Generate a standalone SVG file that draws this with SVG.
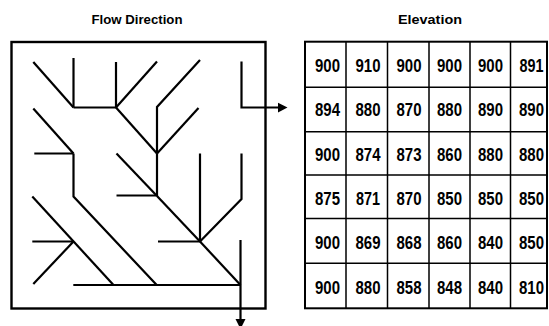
<svg xmlns="http://www.w3.org/2000/svg" width="549" height="326" viewBox="0 0 549 326">
<style>
.title{font-family:"Liberation Sans",Arial,sans-serif;font-weight:bold;font-size:13px;fill:#000;text-anchor:middle}
.num{font-family:"Liberation Sans",Arial,sans-serif;font-weight:bold;font-size:18px;fill:#000;text-anchor:middle}
.flow{fill:none;stroke:#000;stroke-width:2.2}
.frame{fill:#fff;stroke:#000;stroke-width:2.4}
.grid{fill:none;stroke:#000;stroke-width:1.5}
</style>
<rect width="549" height="326" fill="#fff"/>
<g id="flow-direction">
<text class="title" x="137" y="24" textLength="91" lengthAdjust="spacingAndGlyphs">Flow Direction</text>
<rect class="frame" x="11.5" y="42" width="254" height="266.5"/>
</g>
<g id="connectors">
<path class="flow" d="M33.3,62 L73.5,107.5"/>
<path class="flow" d="M73.5,58 V107.5"/>
<path class="flow" d="M73.5,107.5 H116"/>
<path class="flow" d="M116,62 V107.5"/>
<path class="flow" d="M157,61.5 L116,107.5"/>
<path class="flow" d="M116,107.5 L157,153.5"/>
<path class="flow" d="M200,60 L157,107 V153.5"/>
<path class="flow" d="M198.5,108 L157,153.5"/>
<path class="flow" d="M157,153.5 V196"/>
<path class="flow" d="M241.5,61.5 V107.5 H279"/>
<polygon points="278,102.7 287.5,107.5 278,112.5" fill="#000"/>
<path class="flow" d="M33.3,108.5 L73.5,153.5"/>
<path class="flow" d="M34.3,153.5 H73.5"/>
<path class="flow" d="M73.5,153.5 V196.5 L156.7,285"/>
<path class="flow" d="M116.5,153.5 L157,196"/>
<path class="flow" d="M116.5,195.5 H157"/>
<path class="flow" d="M157,196 L200,241.5"/>
<path class="flow" d="M200,153.5 V241.5"/>
<path class="flow" d="M241.5,153.5 V199 L200,241.5"/>
<path class="flow" d="M158,241.5 H200"/>
<path class="flow" d="M200,241.5 L240.5,285"/>
<path class="flow" d="M240.5,240 V320"/>
<polygon points="235.5,319 245.5,319 240.5,329" fill="#000"/>
<path class="flow" d="M73.3,285 H240.5"/>
<path class="flow" d="M32.3,196.5 L113.5,285"/>
<path class="flow" d="M32.3,241.5 H73.5"/>
<path class="flow" d="M33.3,284 L73.5,241.5"/>
</g>
<g id="elevation">
<text class="title" x="430" y="24" textLength="64" lengthAdjust="spacingAndGlyphs">Elevation</text>
<rect x="305" y="41.7" width="242" height="266.6" fill="#fff" stroke="#000" stroke-width="2"/>
<path class="grid" d="M346,41.7 V308.3 M387.5,41.7 V308.3 M429,41.7 V308.3 M470,41.7 V308.3 M510.5,41.7 V308.3 M305,87.3 H547 M305,131.7 H547 M305,175 H547 M305,218.5 H547 M305,263.3 H547"/>
<g id="row1">
<text class="num" x="327.5" y="71.7" textLength="25" lengthAdjust="spacingAndGlyphs">900</text>
<text class="num" x="368" y="71.7" textLength="25" lengthAdjust="spacingAndGlyphs">910</text>
<text class="num" x="409" y="71.7" textLength="25" lengthAdjust="spacingAndGlyphs">900</text>
<text class="num" x="449.5" y="71.7" textLength="25" lengthAdjust="spacingAndGlyphs">900</text>
<text class="num" x="490.5" y="71.7" textLength="25" lengthAdjust="spacingAndGlyphs">900</text>
<text class="num" x="531.5" y="71.7" textLength="24" lengthAdjust="spacingAndGlyphs">891</text>
</g>
<g id="row2">
<text class="num" x="327.5" y="116.3" textLength="25" lengthAdjust="spacingAndGlyphs">894</text>
<text class="num" x="368" y="116.3" textLength="25" lengthAdjust="spacingAndGlyphs">880</text>
<text class="num" x="409" y="116.3" textLength="25" lengthAdjust="spacingAndGlyphs">870</text>
<text class="num" x="449.5" y="116.3" textLength="25" lengthAdjust="spacingAndGlyphs">880</text>
<text class="num" x="490.5" y="116.3" textLength="25" lengthAdjust="spacingAndGlyphs">890</text>
<text class="num" x="531.5" y="116.3" textLength="25" lengthAdjust="spacingAndGlyphs">890</text>
</g>
<g id="row3">
<text class="num" x="327.5" y="160.6" textLength="25" lengthAdjust="spacingAndGlyphs">900</text>
<text class="num" x="368" y="160.6" textLength="25" lengthAdjust="spacingAndGlyphs">874</text>
<text class="num" x="409" y="160.6" textLength="25" lengthAdjust="spacingAndGlyphs">873</text>
<text class="num" x="449.5" y="160.6" textLength="25" lengthAdjust="spacingAndGlyphs">860</text>
<text class="num" x="490.5" y="160.6" textLength="25" lengthAdjust="spacingAndGlyphs">880</text>
<text class="num" x="531.5" y="160.6" textLength="25" lengthAdjust="spacingAndGlyphs">880</text>
</g>
<g id="row4">
<text class="num" x="327.5" y="205" textLength="25" lengthAdjust="spacingAndGlyphs">875</text>
<text class="num" x="368" y="205" textLength="24" lengthAdjust="spacingAndGlyphs">871</text>
<text class="num" x="409" y="205" textLength="25" lengthAdjust="spacingAndGlyphs">870</text>
<text class="num" x="449.5" y="205" textLength="25" lengthAdjust="spacingAndGlyphs">850</text>
<text class="num" x="490.5" y="205" textLength="25" lengthAdjust="spacingAndGlyphs">850</text>
<text class="num" x="531.5" y="205" textLength="25" lengthAdjust="spacingAndGlyphs">850</text>
</g>
<g id="row5">
<text class="num" x="327.5" y="249.3" textLength="25" lengthAdjust="spacingAndGlyphs">900</text>
<text class="num" x="368" y="249.3" textLength="25" lengthAdjust="spacingAndGlyphs">869</text>
<text class="num" x="409" y="249.3" textLength="25" lengthAdjust="spacingAndGlyphs">868</text>
<text class="num" x="449.5" y="249.3" textLength="25" lengthAdjust="spacingAndGlyphs">860</text>
<text class="num" x="490.5" y="249.3" textLength="25" lengthAdjust="spacingAndGlyphs">840</text>
<text class="num" x="531.5" y="249.3" textLength="25" lengthAdjust="spacingAndGlyphs">850</text>
</g>
<g id="row6">
<text class="num" x="327.5" y="294" textLength="25" lengthAdjust="spacingAndGlyphs">900</text>
<text class="num" x="368" y="294" textLength="25" lengthAdjust="spacingAndGlyphs">880</text>
<text class="num" x="409" y="294" textLength="25" lengthAdjust="spacingAndGlyphs">858</text>
<text class="num" x="449.5" y="294" textLength="25" lengthAdjust="spacingAndGlyphs">848</text>
<text class="num" x="490.5" y="294" textLength="25" lengthAdjust="spacingAndGlyphs">840</text>
<text class="num" x="531.5" y="294" textLength="25" lengthAdjust="spacingAndGlyphs">810</text>
</g>
</g>
</svg>
